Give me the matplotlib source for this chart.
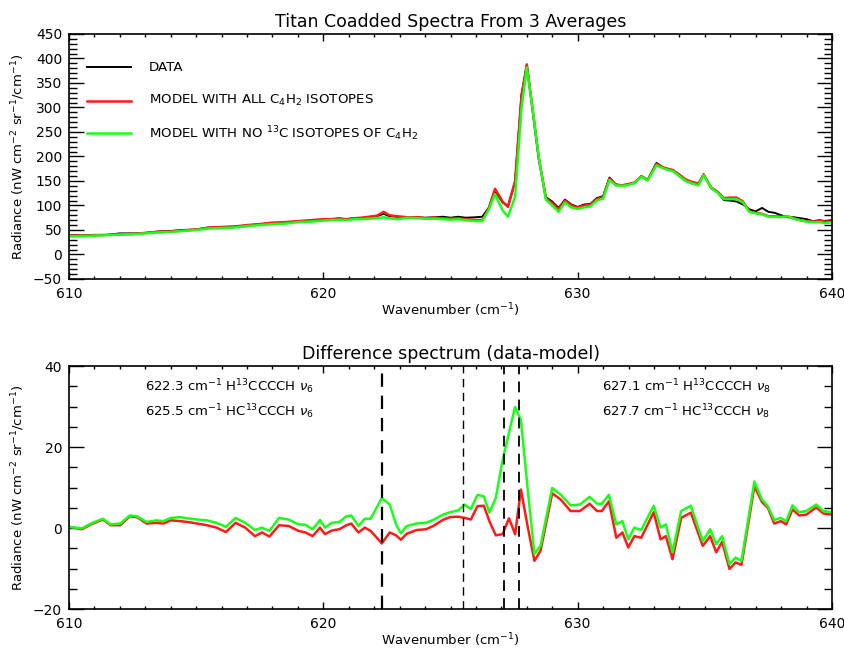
import numpy as np
import matplotlib
matplotlib.use("Agg")
import matplotlib.pyplot as plt
from matplotlib.ticker import MultipleLocator

plt.rcParams['font.family'] = ['DejaVu Sans']
plt.rcParams['mathtext.default'] = 'regular'

# top panel: coadded spectra
wn_top = [610.0, 610.5, 611.0, 611.5, 612.0, 612.5, 613.0, 613.5, 614.0, 614.5,
          615.0, 615.5, 616.0, 616.5, 617.0, 617.5, 618.0, 618.5, 619.0, 619.5,
          620.0, 620.3, 620.6, 620.9, 621.2, 621.5, 621.8, 622.1, 622.37, 622.6,
          622.9, 623.3, 623.7, 624.0, 624.4, 624.7, 625.0, 625.3, 625.6, 626.0,
          626.25, 626.5, 626.75, 627.05, 627.26, 627.54, 627.79, 628.0, 628.22, 628.47,
          628.75, 629.0, 629.25, 629.5, 629.75, 630.0, 630.25, 630.5, 630.75, 631.0,
          631.25, 631.5, 631.75, 632.0, 632.25, 632.5, 632.75, 633.1, 633.4, 633.75,
          634.0, 634.25, 634.5, 634.75, 634.95, 635.25, 635.5, 635.75, 636.0, 636.25,
          636.5, 636.75, 637.0, 637.25, 637.5, 637.75, 638.0, 638.25, 638.5, 638.75,
          639.0, 639.25, 639.5, 639.75, 640.0]
data = [39, 39, 40, 40, 43, 43, 44, 47, 48, 50,
        51, 55, 56, 57, 59, 62, 64, 65, 68, 69,
        71, 71, 73, 72, 74, 74, 76, 78, 83, 78,
        77, 76, 76, 75, 76, 77, 75, 77, 75, 76,
        77, 95, 130, 106, 99, 148, 326, 387, 297, 195,
        117, 108, 95, 112, 102, 97, 102, 103, 115, 119,
        157, 143, 140, 143, 146, 160, 152, 187, 176, 172,
        160, 150, 145, 143, 164, 135, 127, 111, 110, 108,
        102, 92, 88, 95, 87, 85, 80, 76, 76, 74,
        72, 68, 70, 68, 70]
model_all = [38, 38, 39, 40, 41, 42, 44, 46, 47, 49,
             51, 55, 56, 57, 60, 62, 65, 66, 68, 70,
             72, 72, 74, 72, 74, 75, 77, 79, 87, 80,
             78, 76, 76, 74, 75, 74, 73, 74, 72, 70,
             70, 93, 134, 108, 97, 150, 322, 388, 300, 197,
             115, 105, 92, 110, 100, 96, 100, 101, 113, 117,
             155, 143, 141, 144, 147, 160, 152, 185, 177, 172,
             163, 153, 148, 145, 163, 137, 128, 115, 116, 116,
             108, 88, 85, 83, 78, 78, 77, 78, 74, 70,
             68, 67, 68, 67, 67]
model_no13c = [37, 37.5, 38.5, 39.5, 40.5, 41.5, 43, 45, 46, 48,
               50, 53, 54, 55, 58, 60, 62, 63, 66, 67,
               69, 70, 71, 70, 72, 72, 73, 74, 76, 74,
               72, 75, 74, 73, 73, 72, 71, 72, 70, 68,
               68, 91, 123, 90, 77, 118, 297, 382, 300, 199,
               112, 100, 87, 106, 96, 93, 96, 98, 110, 114,
               152, 141, 140, 142, 146, 159, 151, 182, 175, 170,
               160, 150, 145, 141, 162, 136, 126, 113, 113, 113,
               106, 87, 84, 82, 77, 77, 76, 78, 73, 70,
               67, 66, 66, 64, 66]

# bottom panel: difference spectra
wn_diff = [610.0, 610.5, 610.93, 611.34, 611.63, 612.01, 612.39, 612.67, 613.05, 613.43,
           613.71, 614.0, 614.38, 614.66, 615.04, 615.42, 615.8, 616.17, 616.55, 616.93,
           617.31, 617.59, 617.88, 618.26, 618.64, 619.02, 619.3, 619.58, 619.87, 620.06,
           620.34, 620.63, 620.91, 621.1, 621.38, 621.63, 621.86, 622.3, 622.61, 622.86,
           623.05, 623.28, 623.66, 624.03, 624.32, 624.7, 624.98, 625.32, 625.55, 625.8,
           626.06, 626.31, 626.53, 626.78, 627.05, 627.3, 627.54, 627.77, 628.03, 628.3,
           628.54, 629.0, 629.34, 629.72, 630.09, 630.47, 630.76, 630.95, 631.23, 631.52,
           631.76, 631.99, 632.23, 632.5, 632.99, 633.26, 633.47, 633.73, 634.07, 634.45,
           634.92, 635.21, 635.45, 635.68, 635.97, 636.21, 636.44, 636.95, 637.25, 637.48,
           637.73, 637.99, 638.2, 638.45, 638.71, 638.99, 639.38, 639.66, 640.0]
diff_no13c = [0.3, -0.1, 1.3, 2.3, 0.9, 1.1, 3.1, 2.9, 1.5, 1.9,
              1.7, 2.5, 2.7, 2.4, 2.1, 1.9, 1.3, 0.3, 2.5, 1.3,
              -0.5, 0.1, -0.7, 2.5, 2.1, 0.9, 0.8, -0.3, 2.0, 0.1,
              1.3, 1.5, 2.9, 3.1, 0.5, 2.3, 2.3, 7.4, 5.8, 0.9,
              -1.3, 0.5, 1.1, 1.3, 2.0, 3.3, 3.9, 4.4, 5.8, 4.7,
              8.2, 7.8, 3.8, 7.4, 16.8, 23.5, 29.9, 26.6, 10.0, -6.4,
              -4.4, 9.9, 8.2, 5.6, 5.8, 7.7, 6.0, 6.0, 8.2, 0.9,
              1.7, -2.8, 0.1, -0.5, 5.5, 0.1, 0.9, -6.0, 4.2, 5.5,
              -3.2, -0.3, -4.0, -2.0, -8.9, -7.3, -8.1, 11.5, 7.0, 5.4,
              2.0, 2.5, 1.7, 5.6, 3.9, 4.2, 5.8, 4.2, 3.9]
diff_all = [0.3, -0.3, 1.1, 2.1, 0.7, 0.7, 2.9, 2.7, 1.1, 1.3,
            1.1, 1.9, 1.7, 1.5, 1.1, 0.7, 0.1, -1.0, 1.3, 0.1,
            -2.0, -1.1, -2.1, 0.7, 0.5, -0.7, -1.1, -2.0, 0.1, -1.5,
            -0.6, -0.3, 0.7, 1.1, -1.1, 0.1, -0.7, -3.8, -1.1, -1.8,
            -2.9, -1.4, -0.5, -0.3, 0.5, 2.0, 2.7, 2.8, 2.5, 2.1,
            5.4, 5.5, 1.7, -1.8, -1.5, 2.4, -1.5, 9.5, 0.5, -8.1,
            -5.6, 8.6, 7.0, 4.2, 4.2, 6.0, 4.2, 4.2, 6.6, -2.4,
            -1.1, -4.8, -2.0, -2.4, 3.9, -2.8, -2.0, -7.7, 2.5, 3.8,
            -4.4, -2.0, -6.0, -3.4, -10.1, -8.5, -9.1, 10.3, 6.4, 5.0,
            1.1, 1.7, 0.9, 4.6, 3.1, 3.3, 5.1, 3.6, 3.3]

line_pos = [622.3, 625.5, 627.1, 627.7]
line_notes_left = ["622.3 cm$^{-1}$ H$^{13}$CCCCH $\\mathit{\\nu}_6$",
                   "625.5 cm$^{-1}$ HC$^{13}$CCCH $\\mathit{\\nu}_6$"]
line_notes_right = ["627.1 cm$^{-1}$ H$^{13}$CCCCH $\\mathit{\\nu}_8$",
                    "627.7 cm$^{-1}$ HC$^{13}$CCCH $\\mathit{\\nu}_8$"]

RED = '#ff1a1a'
GREEN = '#1aff1a'
YLABEL = "Radiance (nW cm$^{-2}$ sr$^{-1}$/cm$^{-1}$)"
XLABEL = "Wavenumber (cm$^{-1}$)"


def style_axes(ax, ymajor, yminor):
    ax.set_xlim(610, 640)
    ax.xaxis.set_major_locator(MultipleLocator(10))
    ax.xaxis.set_minor_locator(MultipleLocator(1))
    ax.yaxis.set_major_locator(MultipleLocator(ymajor))
    ax.yaxis.set_minor_locator(MultipleLocator(yminor))
    ax.tick_params(axis='both', which='both', direction='in', top=True, right=True,
                   labelsize=10, width=1.0)
    ax.tick_params(axis='x', which='major', length=5, pad=6)
    ax.tick_params(axis='x', which='minor', length=2.5)
    ax.tick_params(axis='y', which='major', length=11, pad=5)
    ax.tick_params(axis='y', which='minor', length=5.5)
    for s in ax.spines.values():
        s.set_linewidth(1.2)
    ax.set_xlabel(XLABEL, fontsize=9.5, labelpad=0)
    ax.set_ylabel(YLABEL, fontsize=9.5, labelpad=4)


fig = plt.figure(figsize=(8.45, 6.5), dpi=100)
ax1 = fig.add_axes([0.0817, 0.5708, 0.9029, 0.3769])
ax2 = fig.add_axes([0.0817, 0.0630, 0.9029, 0.3739])

# top panel
ax1.plot(wn_top, data, color='black', lw=1.4)
ax1.plot(wn_top, model_all, color=RED, lw=1.8)
ax1.plot(wn_top, model_no13c, color=GREEN, lw=1.8)
ax1.set_ylim(-50, 450)
style_axes(ax1, 50, 10)
ax1.set_title("Titan Coadded Spectra From 3 Averages", fontsize=12.5, pad=5)

# hand-made legend like the IDL one
legend_items = [("DATA", 'black', 0.865),
                ("MODEL WITH ALL C$_4$H$_2$ ISOTOPES", RED, 0.728),
                ("MODEL WITH NO $^{13}$C ISOTOPES OF C$_4$H$_2$", GREEN, 0.595)]
for label, col, yf in legend_items:
    ax1.plot([0.0232, 0.0812], [yf, yf], color=col, lw=1.8 if col != 'black' else 1.4,
             transform=ax1.transAxes)
    ax1.text(0.1049, yf, label, transform=ax1.transAxes, fontsize=9.6,
             va='center', ha='left')

# bottom panel
ax2.plot(wn_diff, diff_all, color=RED, lw=1.8)
ax2.plot(wn_diff, diff_no13c, color=GREEN, lw=1.8)
lws = [1.6, 1.0, 1.3, 1.3]
for xp, w in zip(line_pos, lws):
    ax2.axvline(xp, color='black', lw=w, ls=(0, (6, 4)))
ax2.set_ylim(-20, 40)
style_axes(ax2, 20, 5)
ax2.set_title("Difference spectrum (data-model)", fontsize=12.5, pad=5)

for i, (tl, tr) in enumerate(zip(line_notes_left, line_notes_right)):
    yf = 0.915 - i * 0.102
    ax2.text(0.099, yf, tl, transform=ax2.transAxes, fontsize=9.5, va='center')
    ax2.text(0.6986, yf, tr, transform=ax2.transAxes, fontsize=9.5, va='center')

fig.savefig("out.png", dpi=100)
